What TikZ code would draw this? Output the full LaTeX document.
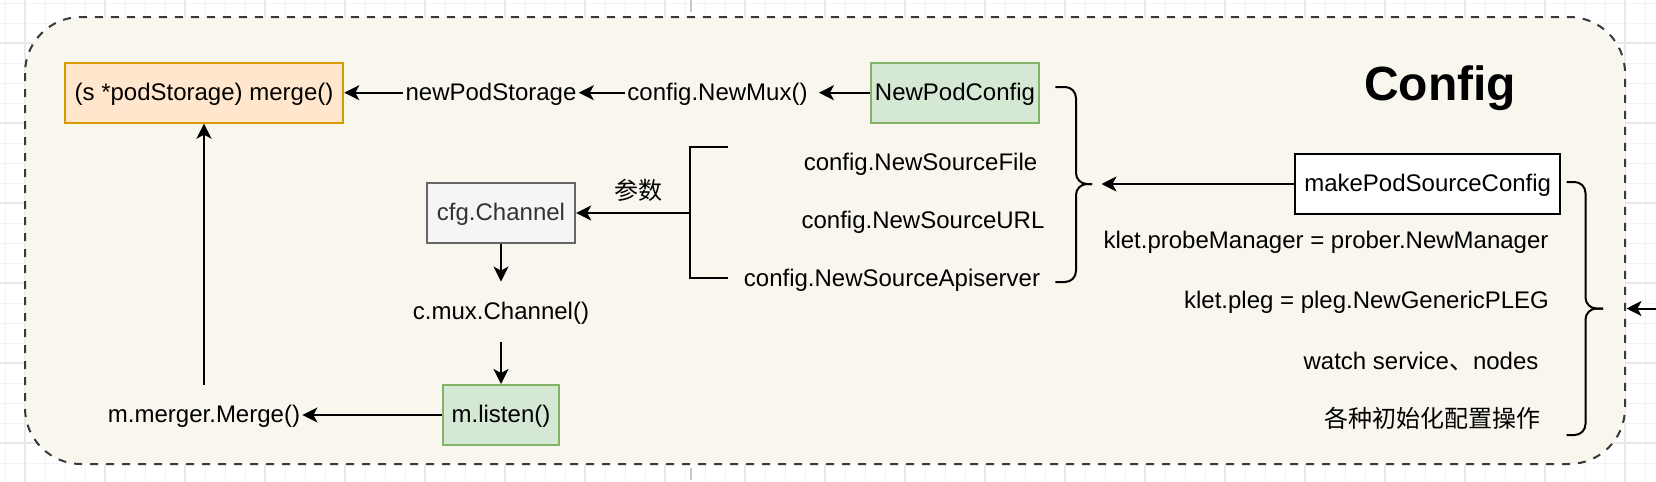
\documentclass[tikz,border=0pt]{standalone}
\usepackage{fontspec}
\setmainfont{Liberation Sans}
\newfontfamily\cjk{Noto Sans CJK SC}
\usetikzlibrary{arrows.meta}
\definecolor{orfill}{HTML}{FFE6CC}
\definecolor{ordraw}{HTML}{D79B00}
\definecolor{grfill}{HTML}{D5E8D4}
\definecolor{grdraw}{HTML}{82B366}
\definecolor{gyfill}{HTML}{F5F5F5}
\definecolor{gydraw}{HTML}{666666}
\definecolor{gytext}{HTML}{333333}
\definecolor{ctfill}{HTML}{F9F7ED}
\definecolor{ctdraw}{HTML}{36393D}
\definecolor{gmajor}{HTML}{E8E8E8}
\definecolor{gminor}{HTML}{F3F3F3}
\definecolor{pagebrk}{HTML}{C8C8C8}
\begin{document}
\begin{tikzpicture}[x=0.5pt,y=-0.5pt,
  every node/.style={font=\fontsize{12pt}{14pt}\selectfont, text height=8.6pt, text depth=1.1pt},
  txt/.style={inner xsep=1pt, inner ysep=0pt, minimum height=30pt},
  box/.style={draw, line width=1pt, inner sep=0pt, minimum height=30pt},
  orangebox/.style={box, fill=orfill, draw=ordraw},
  greenbox/.style={box, fill=grfill, draw=grdraw},
  graybox/.style={box, fill=gyfill, draw=gydraw, text=gytext},
  whitebox/.style={box, fill=white, draw=black},
  titletxt/.style={font=\fontsize{24pt}{28pt}\selectfont\bfseries, text height=17.2pt, text depth=0pt, inner sep=0pt},
  arr/.style={line width=1pt, -{Stealth[length=7.5pt,width=7.5pt,inset=2pt]}},
  bracel/.style={line width=1pt, rounded corners=5.5pt},
  minorg/.style={gminor, line width=0.5pt},
  majorg/.style={gmajor, line width=0.6pt},
  container/.style={fill=ctfill, draw=ctdraw, line width=1pt, dash pattern=on 4pt off 4pt, rounded corners=28pt}
]
\useasboundingbox (0,0) rectangle (1656,482);
\fill[white] (0,0) rectangle (1656,482);
% grid
\foreach \x in {5,25,...,1655} \draw[minorg] (\x,0) -- (\x,482);
\foreach \y in {3,23,...,481} \draw[minorg] (0,\y) -- (1656,\y);
\foreach \x in {25,105,...,1655} \draw[majorg] (\x,0) -- (\x,482);
\foreach \y in {43,123,...,481} \draw[majorg] (0,\y) -- (1656,\y);
% page break
\draw[pagebrk, line width=1pt, dash pattern=on 6pt off 3pt] (690.7,0) -- (690.7,482);
% container
\draw[container] (25,17) rectangle (1625,464);

% title
\node[titletxt] (cfgt) at (1440,83.5) {Config};

% nodes
\node[orangebox, minimum width=139.3pt] (merge) at (204,92.7) {(s *podStorage) merge()};
\node[txt] (nps) at (491,92.7) {newPodStorage};
\node[txt] (mux) at (717.5,92.7) {config.NewMux()};
\node[greenbox, minimum width=84.3pt] (npc) at (955,92.7) {NewPodConfig};
\node[graybox, minimum width=74.2pt] (cfg) at (501,213) {cfg.Channel};
\node[txt] (cmux) at (501,312) {c.mux.Channel()};
\node[greenbox, minimum width=58pt] (listen) at (501,415) {m.listen()};
\node[txt] (mm) at (204,415) {m.merger.Merge()};
\node[txt] (sf) at (920.5,163) {config.NewSourceFile};
\node[txt] (su) at (923,220.7) {config.NewSourceURL};
\node[txt] (sa) at (892,278.5) {config.NewSourceApiserver};
\node[txt] (param) at (638.5,192) {\cjk 参数};
\node[whitebox, minimum width=132.5pt] (mpsc) at (1427.7,184) {makePodSourceConfig};
\node[txt] (probe) at (1326,241) {klet.probeManager = prober.NewManager};
\node[txt] (pleg) at (1366.5,301) {klet.pleg = pleg.NewGenericPLEG};
\node[txt] (watch) at (1421,361.5) {watch service{\cjk 、}nodes};
\node[txt] (init) at (1432,420) {\cjk 各种初始化配置操作};

% coordinates
\coordinate (brk) at (690.4,213);
\coordinate (lbt) at (1101.5,184);
\coordinate (rin) at (1656,308.5);
\coordinate (rbt) at (1626.5,308.5);

% bracket and braces
\draw[line width=1pt] (727.5,147) -- (690.4,147) -- (690.4,278) -- (727.5,278);
\draw[bracel] (1055.4,87) -- (1076,87) -- (1076,184) -- (1092,184);
\draw[bracel] (1092,184) -- (1076,184) -- (1076,282) -- (1055.4,282);
\draw[bracel] (1566.7,182) -- (1585.5,182) -- (1585.5,308.5) -- (1603,308.5);
\draw[bracel] (1603,308.5) -- (1585.5,308.5) -- (1585.5,435) -- (1566.7,435);

% connectors
\draw[arr] (nps.west) -- (merge.east);
\draw[arr] (mux.west) -- (nps.east);
\draw[arr, shorten >=4.5pt] (npc.west) -- (mux.east);
\draw[arr] (brk) -- (cfg.east);
\draw[arr] (cfg.south) -- (cmux.north);
\draw[arr] (cmux.south) -- (listen.north);
\draw[arr] (listen.west) -- (mm.east);
\draw[arr] (mm.north) -- (merge.south);
\draw[arr] (mpsc.west) -- (lbt);
\draw[arr] (rin) -- (rbt);
\end{tikzpicture}
\end{document}
